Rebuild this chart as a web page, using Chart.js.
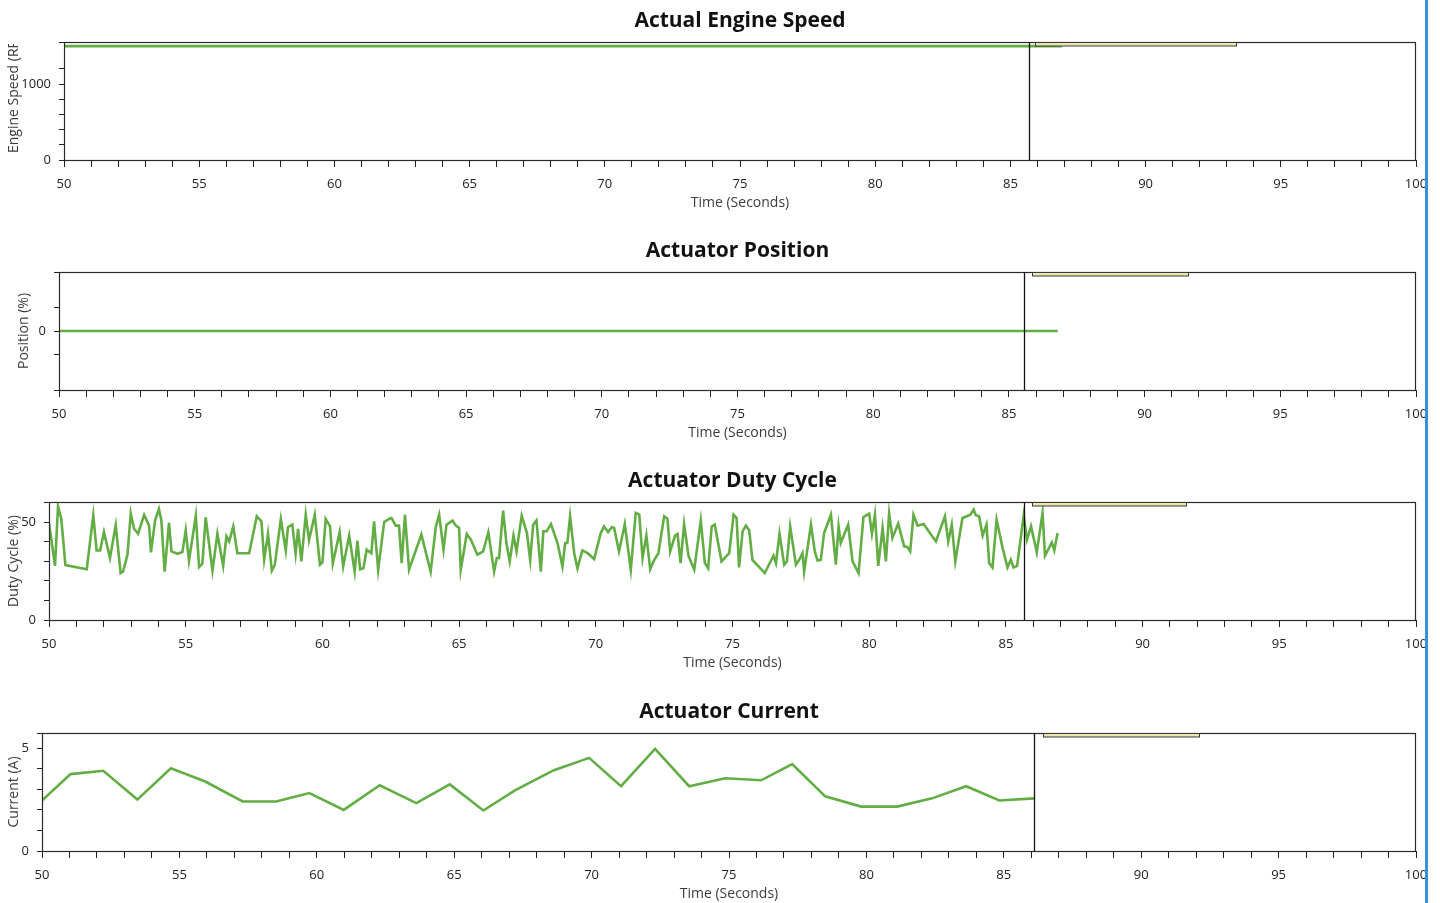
<!DOCTYPE html>
<html>
<head>
<meta charset="utf-8">
<title>Actuator Monitor</title>
<script src="https://cdn.jsdelivr.net/npm/chart.js@4.4.1/dist/chart.umd.min.js"></script>
<style>
  html, body { margin: 0; padding: 0; background: #fff; overflow: hidden; }
  .panel { position: absolute; left: 0; width: 1440px; height: 230px; }
  #edge { position: absolute; left: 1425px; top: 0; width: 3px; height: 903px; background: #3a8ed6; }
</style>
</head>
<body>
<div class="panel" style="top:0px"><canvas id="speed" width="1440" height="230"></canvas></div>
<div class="panel" style="top:230px"><canvas id="position" width="1440" height="230"></canvas></div>
<div class="panel" style="top:460px"><canvas id="duty" width="1440" height="230"></canvas></div>
<div class="panel" style="top:691px"><canvas id="current" width="1440" height="230"></canvas></div>
<div id="edge"></div>
<script>
// time window shown on every panel
const timeMin = 50;
const timeMax = 100;

// Actual Engine Speed (flat at idle)
const speedTime = [50, 86.9];
const speedValue = [1500, 1500];

// Actuator Position
const positionTime = [50, 86.8];
const positionValue = [0, 0];

// Actuator Duty Cycle
const dutyTime = [
  50.00, 50.22, 50.33, 50.45, 50.60, 51.38, 51.62, 51.74, 51.87, 52.01,
  52.23, 52.44, 52.62, 52.71, 52.87, 52.99, 53.11, 53.26, 53.48, 53.66,
  53.73, 53.88, 54.02, 54.11, 54.23, 54.39, 54.48, 54.70, 54.88, 55.00,
  55.12, 55.37, 55.49, 55.61, 55.73, 55.98, 56.16, 56.37, 56.49, 56.59,
  56.74, 56.89, 57.32, 57.60, 57.77, 57.87, 58.01, 58.15, 58.26, 58.48,
  58.66, 58.74, 58.90, 59.02, 59.11, 59.23, 59.39, 59.51, 59.72, 59.91,
  60.00, 60.12, 60.28, 60.38, 60.63, 60.76, 60.98, 61.18, 61.28, 61.38,
  61.50, 61.62, 61.79, 61.89, 62.04, 62.26, 62.44, 62.53, 62.68, 62.80,
  62.90, 63.02, 63.17, 63.62, 63.96, 64.15, 64.27, 64.43, 64.54, 64.76,
  64.88, 65.00, 65.06, 65.28, 65.43, 65.67, 65.88, 66.07, 66.28, 66.38,
  66.46, 66.61, 66.73, 66.85, 66.99, 67.10, 67.29, 67.48, 67.60, 67.71,
  67.83, 67.99, 68.08, 68.20, 68.36, 68.60, 68.78, 68.88, 68.96, 69.06,
  69.21, 69.33, 69.51, 69.70, 69.94, 70.18, 70.30, 70.45, 70.59, 70.67,
  70.85, 71.06, 71.28, 71.46, 71.59, 71.71, 71.85, 71.99, 72.11, 72.29,
  72.50, 72.62, 72.72, 72.90, 72.99, 73.10, 73.23, 73.39, 73.60, 73.84,
  73.99, 74.11, 74.24, 74.35, 74.60, 74.88, 75.04, 75.15, 75.24, 75.37,
  75.49, 75.61, 75.73, 76.18, 76.50, 76.59, 76.72, 76.89, 76.99, 77.11,
  77.32, 77.44, 77.56, 77.62, 77.87, 78.01, 78.11, 78.23, 78.35, 78.60,
  78.78, 78.88, 78.96, 79.23, 79.39, 79.61, 79.79, 80.00, 80.10, 80.21,
  80.33, 80.49, 80.61, 80.73, 80.85, 81.06, 81.28, 81.40, 81.50, 81.62,
  81.77, 81.99, 82.44, 82.77, 82.89, 83.02, 83.15, 83.41, 83.57, 83.70,
  83.82, 83.90, 84.02, 84.15, 84.29, 84.39, 84.51, 84.66, 84.88, 85.06,
  85.18, 85.28, 85.41, 85.65, 85.77, 85.92, 86.13, 86.34, 86.43, 86.62,
  86.68, 86.77, 86.89
];
const dutyValue = [
  49.7, 27.7, 58.2, 51.7, 28.1, 26.0, 53.6, 35.6, 35.6, 45.0,
  31.7, 48.5, 24.0, 24.8, 33.4, 54.5, 46.7, 44.2, 53.8, 48.3,
  34.6, 50.9, 56.8, 51.0, 24.8, 49.7, 35.1, 33.9, 34.8, 45.9,
  30.3, 53.4, 27.1, 28.8, 52.6, 25.2, 44.2, 27.7, 42.8, 40.2,
  47.9, 34.2, 34.2, 53.1, 50.5, 30.8, 44.2, 25.2, 28.3, 51.7,
  35.6, 47.6, 48.8, 33.9, 46.6, 30.0, 53.9, 40.8, 53.9, 28.3,
  29.5, 51.7, 47.9, 28.8, 45.0, 27.4, 43.2, 24.8, 40.6, 26.0,
  26.5, 36.0, 34.2, 50.5, 25.7, 50.2, 51.7, 52.2, 48.3, 48.3,
  29.1, 53.9, 25.7, 43.7, 24.8, 47.9, 53.9, 36.0, 48.8, 50.9,
  48.3, 47.1, 25.7, 44.0, 41.1, 33.4, 35.1, 44.9, 24.8, 31.7,
  31.7, 56.0, 39.4, 30.0, 43.2, 35.1, 53.4, 44.5, 30.8, 48.8,
  51.0, 24.8, 45.4, 45.4, 49.1, 39.4, 27.4, 39.4, 39.4, 53.1,
  34.2, 26.5, 35.6, 34.2, 31.2, 44.5, 47.9, 45.0, 47.6, 47.1,
  35.1, 49.1, 25.7, 54.8, 53.9, 31.7, 43.2, 26.0, 30.0, 34.2,
  53.1, 51.9, 35.1, 43.2, 44.0, 29.1, 49.1, 32.9, 25.7, 51.0,
  29.1, 26.5, 47.9, 48.8, 30.0, 34.2, 53.9, 52.2, 26.9, 45.4,
  48.3, 45.9, 30.8, 24.0, 32.9, 29.1, 44.2, 28.3, 30.0, 47.9,
  28.3, 30.8, 34.2, 24.8, 48.8, 35.1, 30.5, 30.8, 44.5, 53.9,
  28.3, 47.9, 39.4, 48.8, 30.0, 24.0, 52.7, 54.5, 44.2, 53.9,
  27.7, 47.1, 30.0, 54.5, 42.0, 49.3, 37.7, 37.3, 35.1, 53.9,
  48.3, 49.1, 40.2, 53.1, 40.2, 48.8, 30.0, 52.2, 53.1, 53.9,
  56.5, 53.6, 53.1, 43.2, 48.8, 29.1, 26.9, 51.4, 36.8, 26.9,
  30.8, 26.9, 27.7, 53.4, 41.1, 47.9, 34.6, 54.8, 32.9, 38.0,
  39.7, 35.6, 44.5
];

// Actuator Current
const currentTime = [
  50.00, 51.04, 52.23, 53.47, 54.69, 55.94, 57.30, 58.52, 59.73, 60.98,
  62.29, 63.62, 64.84, 66.06, 67.21, 68.63, 69.91, 71.07, 72.31, 73.55,
  74.86, 76.17, 77.30, 78.50, 79.81, 81.12, 82.39, 83.63, 84.84, 86.11
];
const currentValue = [
  2.46, 3.74, 3.90, 2.50, 4.02, 3.38, 2.41, 2.41, 2.82, 2.00,
  3.20, 2.33, 3.24, 1.97, 2.95, 3.93, 4.53, 3.15, 4.97, 3.15,
  3.54, 3.44, 4.23, 2.66, 2.16, 2.16, 2.56, 3.15, 2.46, 2.56
];

// cursor line and the collapsed readout box at the top of each plot
const cursorTime = [85.67, 85.55, 85.67, 86.11];
const readoutFrom = [85.92, 85.86, 85.94, 86.44];
const readoutTo = [93.36, 91.61, 91.60, 92.09];

const fontFamily = "'Open Sans', 'Noto Sans', sans-serif";
const lineGreen = '#63ad45';
const inkDark = '#222222';

function points(xs, ys) {
  return xs.map((x, i) => ({ x: x, y: ys[i] }));
}

// frame, cursor, readout box, panel title and rotated y caption
const panelDecor = {
  id: 'panelDecor',
  afterDatasetsDraw(chart, args, opts) {
    const ctx = chart.ctx;
    const a = chart.chartArea;
    const x = chart.scales.x;

    ctx.save();
    // plot frame
    ctx.strokeStyle = '#2a2a2a';
    ctx.lineWidth = 1.2;
    ctx.strokeRect(Math.round(a.left) + 0.5, Math.round(a.top) + 0.5,
                   Math.round(a.right - a.left) - 1, Math.round(a.bottom - a.top));

    // cursor line
    const cx = Math.round(x.getPixelForValue(opts.cursor)) + 0.5;
    ctx.strokeStyle = '#111111';
    ctx.lineWidth = 1.3;
    ctx.beginPath();
    ctx.moveTo(cx, a.top);
    ctx.lineTo(cx, a.bottom);
    ctx.stroke();

    // readout box
    const b0 = Math.round(x.getPixelForValue(opts.boxFrom)) + 0.5;
    const b1 = Math.round(x.getPixelForValue(opts.boxTo)) + 0.5;
    ctx.fillStyle = '#ece8ad';
    ctx.fillRect(b0, Math.round(a.top) + 0.5, b1 - b0, 3.5);
    ctx.strokeStyle = '#3a3a3a';
    ctx.lineWidth = 1;
    ctx.strokeRect(b0, Math.round(a.top) + 0.5, b1 - b0, 3.5);

    // title centred over the plot
    ctx.fillStyle = '#111111';
    ctx.font = 'bold 21px ' + fontFamily;
    ctx.textAlign = 'center';
    ctx.textBaseline = 'middle';
    ctx.fillText(opts.title, (a.left + a.right) / 2, a.top - 21);

    // y caption, kept inside the plot's height
    ctx.beginPath();
    ctx.rect(0, a.top + 2, a.left, a.bottom - a.top - 2);
    ctx.clip();
    ctx.translate(opts.captionX, opts.captionFromBottom ? a.bottom - 7 : (a.top + a.bottom) / 2);
    ctx.rotate(-Math.PI / 2);
    ctx.font = '14px ' + fontFamily;
    ctx.fillStyle = '#3c3c3c';
    ctx.textAlign = opts.captionFromBottom ? 'left' : 'center';
    ctx.fillText(opts.caption, 0, 0);
    ctx.restore();
  }
};

function panel(id, cfg) {
  return new Chart(document.getElementById(id), {
    type: 'line',
    data: {
      datasets: [{
        data: cfg.data,
        borderColor: lineGreen,
        borderWidth: 2.6,
        pointRadius: 0,
        tension: 0,
        fill: false
      }]
    },
    options: {
      responsive: false,
      animation: false,
      layout: { padding: { top: 42, right: 24, bottom: 8, left: 0 } },
      plugins: {
        legend: { display: false },
        tooltip: { enabled: false },
        panelDecor: {
          title: cfg.title,
          caption: cfg.caption,
          captionX: cfg.captionX,
          captionFromBottom: cfg.captionFromBottom || false,
          cursor: cfg.cursor,
          boxFrom: cfg.boxFrom,
          boxTo: cfg.boxTo
        }
      },
      scales: {
        x: {
          type: 'linear',
          min: timeMin,
          max: timeMax,
          afterFit: s => { s.height = 62; },
          border: { display: false },
          grid: { drawOnChartArea: false, tickLength: 7, color: inkDark, tickColor: inkDark },
          ticks: {
            stepSize: 1,
            autoSkip: false,
            maxRotation: 0,
            padding: 9,
            color: '#222222',
            font: { family: fontFamily, size: 13 },
            callback: v => (v % 5 === 0 ? v : '')
          },
          title: {
            display: true,
            text: 'Time (Seconds)',
            color: '#3c3c3c',
            font: { family: fontFamily, size: 14 },
            padding: { top: 0, bottom: 11 }
          }
        },
        y: {
          min: cfg.yMin,
          max: cfg.yMax,
          afterFit: s => { s.width = cfg.plotLeft; },
          border: { display: false },
          grid: { drawOnChartArea: false, tickLength: 5, color: inkDark, tickColor: inkDark },
          ticks: {
            stepSize: cfg.yStep,
            autoSkip: false,
            padding: 8,
            color: '#222222',
            font: { family: fontFamily, size: 13 },
            callback: v => (cfg.yLabels.includes(v) ? v : '')
          }
        }
      }
    },
    plugins: [panelDecor]
  });
}

panel('speed', {
  title: 'Actual Engine Speed',
  caption: 'Engine Speed (RPM)',
  captionX: 14,
  captionFromBottom: true,
  data: points(speedTime, speedValue),
  yMin: 0, yMax: 1554, yStep: 200, yLabels: [0, 1000],
  plotLeft: 64,
  cursor: cursorTime[0], boxFrom: readoutFrom[0], boxTo: readoutTo[0]
});

panel('position', {
  title: 'Actuator Position',
  caption: 'Position (%)',
  captionX: 24,
  data: points(positionTime, positionValue),
  yMin: -2.54, yMax: 2.54, yStep: 1, yLabels: [0],
  plotLeft: 59,
  cursor: cursorTime[1], boxFrom: readoutFrom[1], boxTo: readoutTo[1]
});

panel('duty', {
  title: 'Actuator Duty Cycle',
  caption: 'Duty Cycle (%)',
  captionX: 14,
  data: points(dutyTime, dutyValue),
  yMin: 0, yMax: 60.4, yStep: 10, yLabels: [0, 50],
  plotLeft: 49,
  cursor: cursorTime[2], boxFrom: readoutFrom[2], boxTo: readoutTo[2]
});

panel('current', {
  title: 'Actuator Current',
  caption: 'Current (A)',
  captionX: 14,
  data: points(currentTime, currentValue),
  yMin: 0, yMax: 5.74, yStep: 1, yLabels: [0, 5],
  plotLeft: 42,
  cursor: cursorTime[3], boxFrom: readoutFrom[3], boxTo: readoutTo[3]
});
</script>
</body>
</html>
